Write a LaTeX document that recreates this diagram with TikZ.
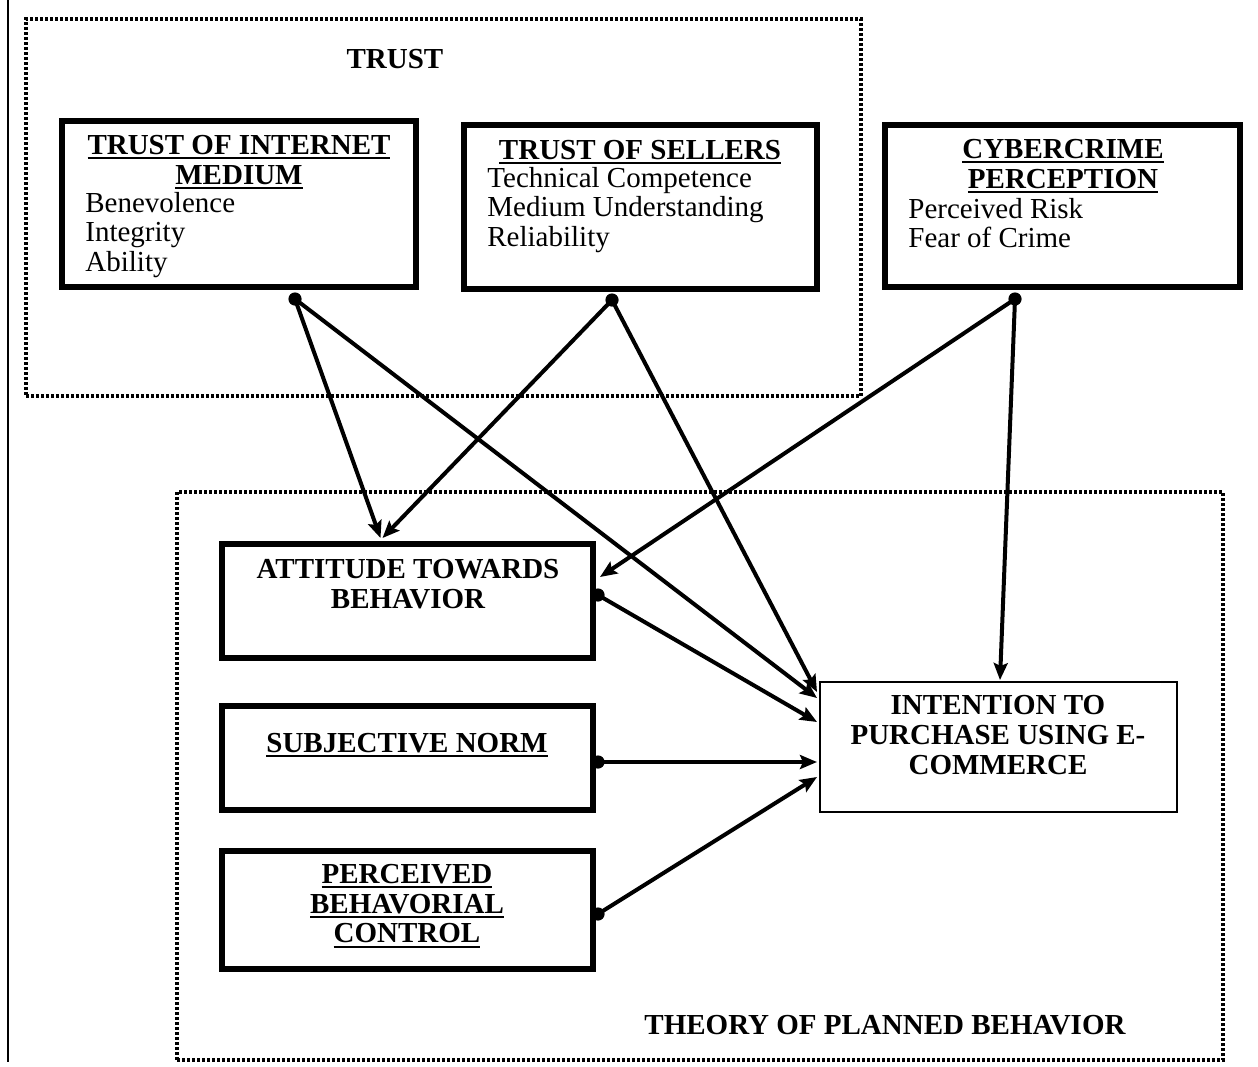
\documentclass[tikz,border=0pt]{standalone}
\usepackage{fontspec}
\setmainfont{Liberation Serif}
\usetikzlibrary{arrows.meta,calc}
\newcommand{\myuline}[1]{\setbox0\hbox{#1}\rlap{\rule[-2.4pt]{\wd0}{1pt}}\box0}
\begin{document}
\begin{tikzpicture}[x=0.5pt,y=-0.5pt,
  every node/.style={font=\fontsize{14.5pt}{14.8pt}\selectfont},
  thickbox/.style={draw, line width=3pt, inner sep=0pt, minimum width=#1},
  thinbox/.style={draw, line width=1pt, inner sep=0pt},
  frame/.style={draw, line width=2pt, dash pattern=on 1.5pt off 1pt, inner sep=0pt},
  title/.style={align=center, inner sep=0pt, font=\bfseries\fontsize{14.5pt}{14.8pt}\selectfont},
  items/.style={align=left, inner sep=0pt, anchor=west},
  conn/.style={line width=2pt, -{Stealth[length=8.5pt,width=7pt,inset=1.5pt]}},
  dotmark/.style={fill=black}
]
\useasboundingbox (0,0) rectangle (1258,1066);

% stray vertical line
\coordinate (vtop) at (8,0);
\coordinate (vbot) at (8,1062);
\draw[line width=0.75pt] (vtop) -- (vbot);

% frames
\node[frame, minimum width=417.5pt, minimum height=188.5pt] (trustframe) at (443.5,207.5) {};
\node[frame, minimum width=523pt, minimum height=284pt] (tpbframe) at (700,776) {};
\node[title] (trustlbl) at (395,59) {TRUST};
\node[title] (tpblbl) at (885,1025) {THEORY OF PLANNED BEHAVIOR};

% boxes
\node[thickbox=177pt, minimum height=83pt] (tim) at (239,204) {};
\node[thickbox=176.5pt, minimum height=82pt] (tos) at (640.5,207) {};
\node[thickbox=177.5pt, minimum height=81pt] (cp) at (1062.5,206) {};
\node[thickbox=185.5pt, minimum height=57pt] (atb) at (407.5,601) {};
\node[thickbox=185.5pt, minimum height=52pt] (sn) at (407.5,758) {};
\node[thickbox=185.5pt, minimum height=59pt] (pbc) at (407.5,910) {};
\node[thinbox, minimum width=178.5pt, minimum height=65pt] (itp) at (998.5,747) {};

% texts
\node[title] (timt) at (239,162) {\myuline{TRUST OF INTERNET}\\\myuline{MEDIUM}};
\node[items] (timi) at (85,235) {Benevolence\\Integrity\\Ability};
\node[title] (tost) at (640,152) {\myuline{TRUST OF SELLERS}};
\node[items] (tosi) at (487,210) {Technical Competence\\Medium Understanding\\Reliability};
\node[title] (cpt) at (1063,166) {\myuline{CYBERCRIME}\\\myuline{PERCEPTION}};
\node[items] (cpi) at (908,223) {Perceived Risk\\Fear of Crime};
\node[title] (atbt) at (408,584) {ATTITUDE TOWARDS\\BEHAVIOR};
\node[title] (snt) at (407,745) {\myuline{SUBJECTIVE NORM}};
\node[title] (pbct) at (407,906) {\myuline{PERCEIVED}\\\myuline{BEHAVORIAL}\\\myuline{CONTROL}};
\node[title] (itpt) at (998,735) {INTENTION TO\\PURCHASE USING E-\\COMMERCE};

% connector points
\coordinate (timd) at ($(tim.south)+(56,9)$);
\coordinate (tosd) at ($(tos.south)+(-28.5,8)$);
\coordinate (cpd) at ($(cp.south)+(-47.5,9)$);
\coordinate (atbd) at ($(atb.east)+(2,-6)$);
\coordinate (snd) at ($(sn.east)+(2,4)$);
\coordinate (pbcd) at ($(pbc.east)+(2,4)$);

\coordinate (atbin1) at ($(atb.north)+(-27,-3)$);
\coordinate (atbin2) at ($(atb.north)+(-25,-3)$);
\coordinate (atbin3) at ($(atb.east)+(4,-24)$);
\coordinate (itpin1) at ($(itp.west)+(-2,-49)$);
\coordinate (itpin2) at ($(itp.west)+(-2,-55)$);
\coordinate (itpin3) at ($(itp.west)+(-2,-25)$);
\coordinate (itpin4) at ($(itp.west)+(-2,15)$);
\coordinate (itpin5) at ($(itp.west)+(-2,30)$);
\coordinate (itpin6) at ($(itp.north)+(1.5,-1)$);

\draw[conn] (timd) -- (atbin1);
\draw[conn] (timd) -- (itpin1);
\draw[conn] (tosd) -- (atbin2);
\draw[conn] (tosd) -- (itpin2);
\draw[conn] (cpd) -- (atbin3);
\draw[conn] (cpd) -- (itpin6);
\draw[conn] (atbd) -- (itpin3);
\draw[conn] (snd) -- (itpin4);
\draw[conn] (pbcd) -- (itpin5);

\foreach \p in {timd,tosd,cpd,atbd,snd,pbcd}
  \fill[dotmark] (\p) circle[radius=3.3pt];
\end{tikzpicture}
\end{document}
